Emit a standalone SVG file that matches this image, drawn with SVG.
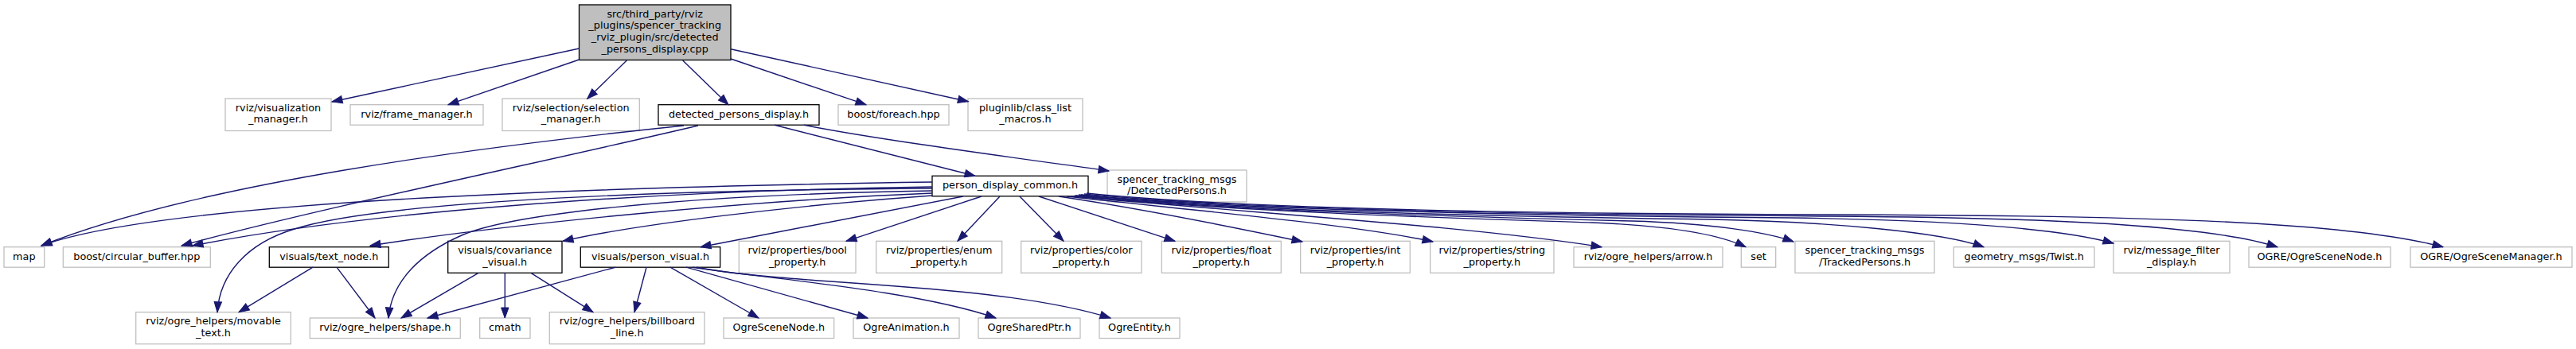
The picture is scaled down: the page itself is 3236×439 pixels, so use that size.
<svg xmlns="http://www.w3.org/2000/svg" width="3236" height="439" viewBox="0 0 3236 439">
<style>
.n rect{fill:#ffffff;stroke:#bfbfbf;stroke-width:1.3}
.n.b rect{stroke:#000000}
.n.m rect{fill:#bfbfbf;stroke:#000000}
text{font-family:"DejaVu Sans","Liberation Sans",sans-serif;font-size:12.8px;text-anchor:middle;fill:#000000}
#edges path{fill:none;stroke:#191970;stroke-width:1.4;marker-end:url(#ah)}
</style>
<defs>
<marker id="ah" markerUnits="userSpaceOnUse" markerWidth="16" markerHeight="12" refX="13" refY="5" orient="auto" viewBox="0 0 16 12" overflow="visible">
<path d="M0,0.3 L13,5 L0,9.7 Z" fill="#191970" stroke="#191970" stroke-width="1"/>
</marker>
</defs>
<rect width="3236" height="439" fill="#ffffff"/>
<g id="main" class="n m"><rect x="727.5" y="6" width="190.5" height="69.5"/><text x="822.7" y="21.5">src/third_party/rviz</text><text x="822.7" y="36.2">_plugins/spencer_tracking</text><text x="822.7" y="50.9">_rviz_plugin/src/detected</text><text x="822.7" y="65.6">_persons_display.cpp</text></g>
<g id="vis_mgr" class="n"><rect x="283" y="124" width="133" height="40.5"/><text x="349.5" y="139.5">rviz/visualization</text><text x="349.5" y="154.2">_manager.h</text></g>
<g id="frame_mgr" class="n"><rect x="440" y="131.7" width="167" height="25.5"/><text x="523.5" y="147.7">rviz/frame_manager.h</text></g>
<g id="sel_mgr" class="n"><rect x="631" y="124" width="172.3" height="40.5"/><text x="717.2" y="139.5">rviz/selection/selection</text><text x="717.2" y="154.2">_manager.h</text></g>
<g id="detected_h" class="n b"><rect x="827" y="131.7" width="202" height="25.5"/><text x="928" y="147.7">detected_persons_display.h</text></g>
<g id="foreach" class="n"><rect x="1053" y="131.7" width="139" height="25.5"/><text x="1122.5" y="147.7">boost/foreach.hpp</text></g>
<g id="pluginlib" class="n"><rect x="1216" y="124" width="144" height="40.5"/><text x="1288" y="139.5">pluginlib/class_list</text><text x="1288" y="154.2">_macros.h</text></g>
<g id="pdc" class="n b"><rect x="1171" y="221.3" width="196" height="25.5"/><text x="1269" y="237.3">person_display_common.h</text></g>
<g id="detected_msgs" class="n"><rect x="1391" y="214" width="175" height="40"/><text x="1478.5" y="229.5">spencer_tracking_msgs</text><text x="1478.5" y="244.2">/DetectedPersons.h</text></g>
<g id="map" class="n"><rect x="5" y="310.7" width="50.7" height="25.5"/><text x="30.3" y="326.7">map</text></g>
<g id="circ" class="n"><rect x="79.3" y="310.7" width="185" height="25.5"/><text x="171.8" y="326.7">boost/circular_buffer.hpp</text></g>
<g id="text_node" class="n b"><rect x="338.3" y="310.7" width="150" height="25.5"/><text x="413.3" y="326.7">visuals/text_node.h</text></g>
<g id="cov" class="n b"><rect x="562.7" y="303.3" width="143.3" height="40"/><text x="634.3" y="318.8">visuals/covariance</text><text x="634.3" y="333.5">_visual.h</text></g>
<g id="pv" class="n b"><rect x="729.3" y="310.7" width="175.4" height="25.5"/><text x="817" y="326.7">visuals/person_visual.h</text></g>
<g id="bool" class="n"><rect x="928.3" y="303.3" width="146.7" height="40"/><text x="1001.7" y="318.8">rviz/properties/bool</text><text x="1001.7" y="333.5">_property.h</text></g>
<g id="enum" class="n"><rect x="1100.7" y="303.3" width="158" height="40"/><text x="1179.7" y="318.8">rviz/properties/enum</text><text x="1179.7" y="333.5">_property.h</text></g>
<g id="color" class="n"><rect x="1282.7" y="303.3" width="151.3" height="40"/><text x="1358.3" y="318.8">rviz/properties/color</text><text x="1358.3" y="333.5">_property.h</text></g>
<g id="float" class="n"><rect x="1459.3" y="303.3" width="150" height="40"/><text x="1534.3" y="318.8">rviz/properties/float</text><text x="1534.3" y="333.5">_property.h</text></g>
<g id="int" class="n"><rect x="1633.7" y="303.3" width="137.6" height="40"/><text x="1702.5" y="318.8">rviz/properties/int</text><text x="1702.5" y="333.5">_property.h</text></g>
<g id="string" class="n"><rect x="1796.7" y="303.3" width="155.3" height="40"/><text x="1874.3" y="318.8">rviz/properties/string</text><text x="1874.3" y="333.5">_property.h</text></g>
<g id="arrow" class="n"><rect x="1977" y="310.7" width="187" height="25.5"/><text x="2070.5" y="326.7">rviz/ogre_helpers/arrow.h</text></g>
<g id="set" class="n"><rect x="2187.3" y="310.7" width="43.4" height="25.5"/><text x="2209" y="326.7">set</text></g>
<g id="tracked" class="n"><rect x="2255" y="303.3" width="175" height="40"/><text x="2342.5" y="318.8">spencer_tracking_msgs</text><text x="2342.5" y="333.5">/TrackedPersons.h</text></g>
<g id="twist" class="n"><rect x="2454.3" y="310.7" width="176.7" height="25.5"/><text x="2542.7" y="326.7">geometry_msgs/Twist.h</text></g>
<g id="msgfilter" class="n"><rect x="2655" y="303.3" width="146" height="40"/><text x="2728" y="318.8">rviz/message_filter</text><text x="2728" y="333.5">_display.h</text></g>
<g id="ogre_sn" class="n"><rect x="2825" y="310.7" width="178" height="25.5"/><text x="2914" y="326.7">OGRE/OgreSceneNode.h</text></g>
<g id="ogre_sm" class="n"><rect x="3028" y="310.7" width="203" height="25.5"/><text x="3129.5" y="326.7">OGRE/OgreSceneManager.h</text></g>
<g id="movable" class="n"><rect x="170.7" y="392.7" width="194.6" height="40"/><text x="268" y="408.2">rviz/ogre_helpers/movable</text><text x="268" y="422.9">_text.h</text></g>
<g id="shape" class="n"><rect x="389.3" y="400" width="189" height="25.5"/><text x="483.8" y="416">rviz/ogre_helpers/shape.h</text></g>
<g id="cmath" class="n"><rect x="602.7" y="400" width="63.3" height="25.5"/><text x="634.3" y="416">cmath</text></g>
<g id="billboard" class="n"><rect x="690.3" y="392.7" width="194.7" height="40"/><text x="787.7" y="408.2">rviz/ogre_helpers/billboard</text><text x="787.7" y="422.9">_line.h</text></g>
<g id="osn" class="n"><rect x="909" y="400" width="138.7" height="25.5"/><text x="978.3" y="416">OgreSceneNode.h</text></g>
<g id="oanim" class="n"><rect x="1072" y="400" width="133" height="25.5"/><text x="1138.5" y="416">OgreAnimation.h</text></g>
<g id="osp" class="n"><rect x="1229" y="400" width="128" height="25.5"/><text x="1293" y="416">OgreSharedPtr.h</text></g>
<g id="oent" class="n"><rect x="1381" y="400" width="101" height="25.5"/><text x="1431.5" y="416">OgreEntity.h</text></g>
<g id="edges">
<path d="M727.5,61 L417,128"/>
<path d="M727.5,75 L563,131.7"/>
<path d="M787.3,76 L737.7,124.3"/>
<path d="M857.7,76 L915,131.7"/>
<path d="M918,74 L1088,131.7"/>
<path d="M918,61.7 L1216.4,127.7"/>
<path d="M859,158 C600,185 250,230 52,309"/>
<path d="M877,158 C700,200 400,262 228,309"/>
<path d="M973,157.3 L1225,221.3"/>
<path d="M1010,157.3 C1100,175 1250,195 1393,215"/>
<path d="M1171,229 C700,236 200,255 52,309"/>
<path d="M1171,235 C800,240 450,268 242,309"/>
<path d="M1171,243 C950,252 650,280 465,309"/>
<path d="M1171,246 C1000,258 800,282 707,303.3"/>
<path d="M1210,247 L880,310.7"/>
<path d="M1171,237 C700,240 450,262 370,288 C310,306 276,345 273,392.7"/>
<path d="M1171,240 C850,245 640,270 580,296 C530,318 492,352 488,400"/>
<path d="M1233,247 L1063,303.3"/>
<path d="M1256,247 L1203,303.3"/>
<path d="M1281,247 L1336,303.3"/>
<path d="M1305,247 L1476,303.3"/>
<path d="M1330,247 C1450,265 1560,288 1636,304"/>
<path d="M1340,247 C1500,265 1700,282 1800,304"/>
<path d="M1347,247 C1600,270 1850,285 2012,310.7"/>
<path d="M1350,246 C1550,267 1850,275 2000,280 C2100,284 2160,295 2193,310.7"/>
<path d="M1352,246 C1550,266 1850,273 2050,278 C2150,281 2220,292 2253,304"/>
<path d="M1355,245 C1550,265 1850,272 2150,276 C2300,279 2440,292 2492,310.7"/>
<path d="M1358,245 C1550,264 1900,271 2250,274 C2450,277 2590,288 2655,306"/>
<path d="M1362,244 C1550,263 1900,270 2300,272 C2600,274 2780,285 2861,310.7"/>
<path d="M1365,243 C1550,262 1900,269 2300,270 C2750,271 2960,282 3069,310.7"/>
<path d="M393,336.2 L300,392.7"/>
<path d="M423,336.2 L471,400"/>
<path d="M601,343.3 L504,400"/>
<path d="M634.3,343.3 L634.3,400"/>
<path d="M667,343.3 L745,392.7"/>
<path d="M773,336.2 L537,400"/>
<path d="M812,336.2 L797,392.7"/>
<path d="M842,336.2 L953,400"/>
<path d="M862,336.2 L1090,400"/>
<path d="M870,336.2 C960,350 1150,365 1251,400"/>
<path d="M875,336.2 C1000,360 1250,355 1395,400"/>
</g>
</svg>
